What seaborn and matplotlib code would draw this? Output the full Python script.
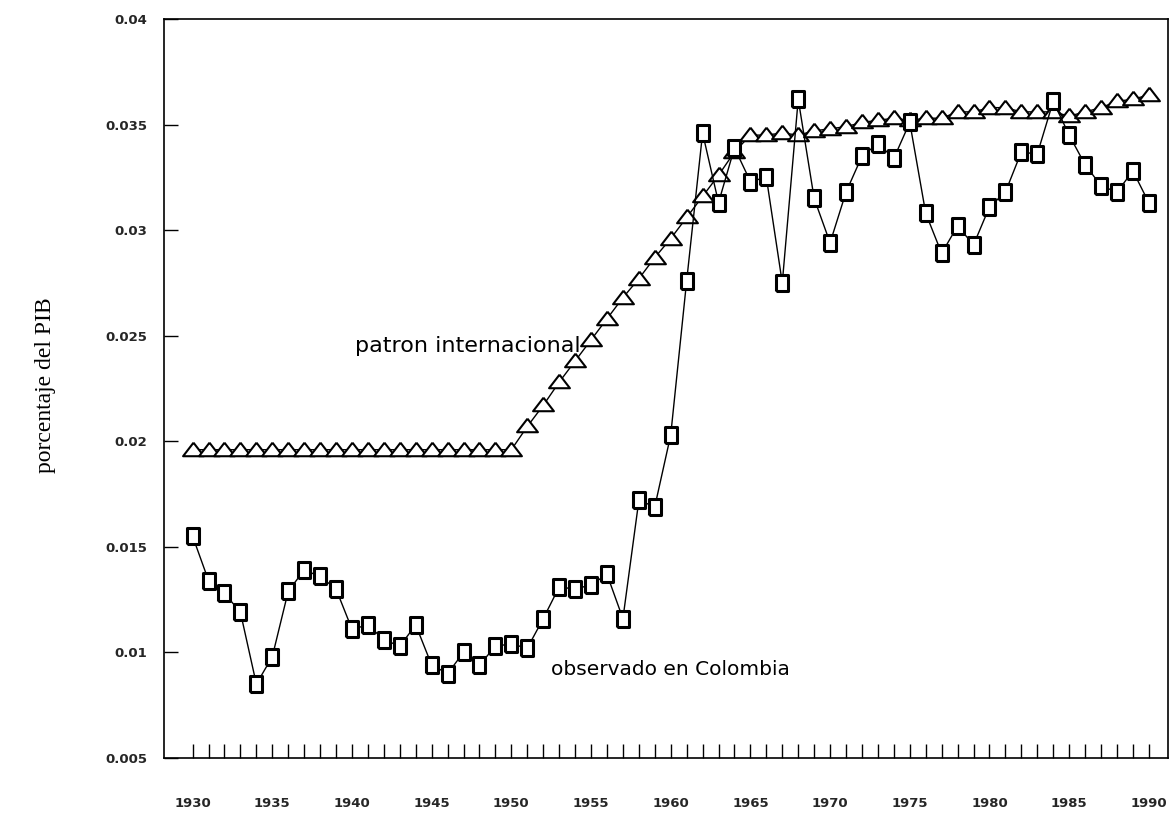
import numpy as np
import pandas as pd
import matplotlib
matplotlib.use("Agg")
import matplotlib.pyplot as plt
import seaborn as sns

years = list(range(1930, 1991))

patron_internacional = [
    0.0196, 0.0196, 0.0196, 0.0196, 0.0196, 0.0196, 0.0196, 0.0196, 0.0196, 0.0196,
    0.0196, 0.0196, 0.0196, 0.0196, 0.0196, 0.0196, 0.0196, 0.0196, 0.0196, 0.0196,
    0.0196, 0.0207, 0.0217, 0.0228, 0.0238, 0.0248, 0.0258, 0.0268, 0.0277, 0.0287,
    0.0296, 0.0306, 0.0316, 0.0326, 0.0337, 0.0345, 0.0345, 0.0346, 0.0345, 0.0347,
    0.0348, 0.0349, 0.0351, 0.0352, 0.0353, 0.0352, 0.0353, 0.0353, 0.0356, 0.0356,
    0.0358, 0.0358, 0.0356, 0.0356, 0.0356, 0.0354, 0.0356, 0.0358, 0.0361, 0.0362,
    0.0364,
]

observado_colombia = [
    0.0155, 0.0134, 0.0128, 0.0119, 0.0085, 0.0098, 0.0129, 0.0139, 0.0136, 0.0130,
    0.0111, 0.0113, 0.0106, 0.0103, 0.0113, 0.0094, 0.0090, 0.0100, 0.0094, 0.0103,
    0.0104, 0.0102, 0.0116, 0.0131, 0.0130, 0.0132, 0.0137, 0.0116, 0.0172, 0.0169,
    0.0203, 0.0276, 0.0346, 0.0313, 0.0339, 0.0323, 0.0325, 0.0275, 0.0362, 0.0315,
    0.0294, 0.0318, 0.0335, 0.0341, 0.0334, 0.0351, 0.0308, 0.0289, 0.0302, 0.0293,
    0.0311, 0.0318, 0.0337, 0.0336, 0.0361, 0.0345, 0.0331, 0.0321, 0.0318, 0.0328,
    0.0313,
]

y_ticks = [0.005, 0.01, 0.015, 0.02, 0.025, 0.03, 0.035, 0.04]
y_tick_labels = ["0.005", "0.01", "0.015", "0.02", "0.025", "0.03", "0.035", "0.04"]
x_label_years = [1930, 1935, 1940, 1945, 1950, 1955, 1960, 1965, 1970, 1975, 1980, 1985, 1990]

label_patron = "patron internacional"
label_colombia = "observado en Colombia"
y_axis_label = "porcentaje del PIB"

df = pd.DataFrame({
    "year": years,
    "patron": patron_internacional,
    "colombia": observado_colombia,
})

sns.set_style("white")
plt.rcParams["font.family"] = ["DejaVu Sans"]

fig = plt.figure(figsize=(11.71, 8.14), dpi=100)
ax = fig.add_axes([0.140, 0.0688, 0.8574, 0.9079])

tri_marker = [(0.0, 0.75), (-1.0, -0.55), (1.0, -0.55), (0.0, 0.75)]
rect_marker = [(-0.38, -0.5), (0.38, -0.5), (0.38, 0.5), (-0.38, 0.5), (-0.38, -0.5)]

sns.lineplot(data=df, x="year", y="patron", ax=ax, color="black", linewidth=1.0,
             marker=tri_marker, markersize=15, markerfacecolor="white",
             markeredgecolor="black", markeredgewidth=1.5, zorder=3)
sns.lineplot(data=df, x="year", y="colombia", ax=ax, color="black", linewidth=1.0,
             marker=rect_marker, markersize=12, markerfacecolor="white",
             markeredgecolor="black", markeredgewidth=2.2, zorder=4)

ax.set_xlim(1928.2, 1991.2)
ax.set_ylim(0.005, 0.04)

ax.set_xticks(years)
ax.set_xticklabels([str(y) if y in x_label_years else "" for y in years])
ax.set_yticks(y_ticks)
ax.set_yticklabels(y_tick_labels)

ax.tick_params(axis="x", direction="in", length=10, width=1.0, pad=28,
               labelsize=9.5, bottom=True, color="black")
ax.tick_params(axis="y", direction="in", length=10, width=1.0, pad=12,
               labelsize=9.5, left=True, color="black")
for lab in ax.get_xticklabels() + ax.get_yticklabels():
    lab.set_fontweight("bold")

for s in ax.spines.values():
    s.set_color("black")
    s.set_linewidth(1.2)

ax.set_xlabel("")
ax.set_ylabel("")

ax.text(1940.2, 0.0245, label_patron, fontsize=16, ha="left", va="center", color="black")
ax.text(1952.5, 0.0092, label_colombia, fontsize=14.5, ha="left", va="center", color="black")

fig.text(46 / 1171, 1 - 385 / 814, y_axis_label, rotation=90, ha="center", va="center",
         fontsize=17, family=["Liberation Serif", "DejaVu Serif"], color="black")

fig.savefig("out.png", dpi=100, facecolor="white")
